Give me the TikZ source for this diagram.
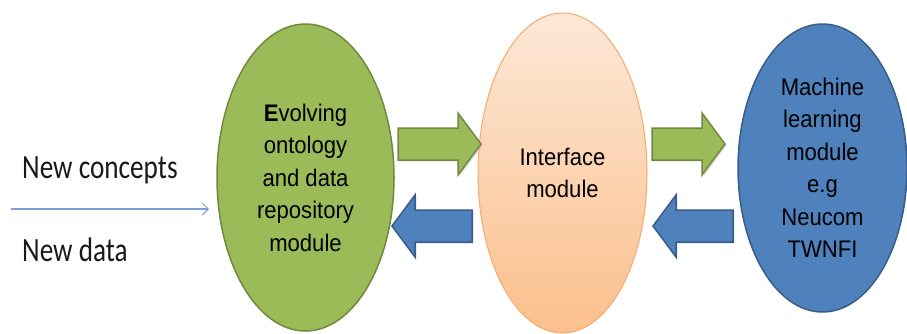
\documentclass[tikz,border=0pt]{standalone}
\usepackage{fontspec}
\setmainfont{Liberation Sans}
\newfontfamily\labfont[FakeStretch=0.8]{Carlito}
\newfontfamily\elfont[FakeStretch=0.92]{Liberation Sans}
\usetikzlibrary{shapes.geometric,arrows.meta,shadows}
\definecolor{grfill}{HTML}{9BBB59}
\definecolor{grline}{HTML}{71893F}
\definecolor{blfill}{HTML}{4F81BD}
\definecolor{blline}{HTML}{385D8A}
\definecolor{ortop}{HTML}{FDE8D7}
\definecolor{orbot}{HTML}{FBC08C}
\definecolor{orline}{HTML}{F7A86A}
\definecolor{inline}{HTML}{7F9FCF}
\newcommand{\blockarr}[5]{%
  \draw[draw=#5, fill=#4, line width=1.5pt, line join=miter,
        drop shadow={opacity=0.25, shadow xshift=1.5pt, shadow yshift=-1.5pt}]
    (#1,#3-16) -- ({#2-23*sign(#2-#1)},#3-16) -- ({#2-23*sign(#2-#1)},#3-31)
    -- (#2,#3) -- ({#2-23*sign(#2-#1)},#3+31) -- ({#2-23*sign(#2-#1)},#3+16)
    -- (#1,#3+16) -- cycle;}
\begin{document}
\begin{tikzpicture}[x=1pt,y=-1pt,
  modbox/.style={ellipse, inner sep=0pt, line width=1.5pt, align=center,
     font=\elfont\fontsize{24}{32.5}\selectfont},
  lab/.style={anchor=west, inner sep=0pt, text=black!90,
     font=\labfont\fontsize{34}{36}\selectfont}]
\useasboundingbox (0,0) rectangle (907,333);
% modules
\node[modbox, draw=grline, fill=grfill, minimum width=177pt, minimum height=307pt]
  (evo) at (305.5,177.5) {\textbf{E}volving\\ontology\\and data\\repository\\module};
\node[modbox, draw=orline, top color=ortop, bottom color=orbot, line width=1pt,
  minimum width=169pt, minimum height=320pt]
  (int) at (562.5,173) {Interface\\module};
\node[modbox, draw=blline, fill=blfill, minimum width=169pt, minimum height=288pt]
  (ml) at (822.5,168) {Machine\\learning\\module\\e.g\\Neucom\\TWNFI};
% block arrows
\blockarr{398}{481}{144}{grfill}{grline}
\blockarr{472}{392}{226}{blfill}{blline}
\blockarr{652}{725}{144}{grfill}{grline}
\blockarr{733}{653}{226}{blfill}{blline}
% input
\node[lab] (nc) at (22,170) {New concepts};
\node[lab] (nd) at (22,250) {New data};
\coordinate (inS) at (11,209);
\coordinate (inE) at (209,209);
\draw[inline, line width=1.3pt, -{Straight Barb[length=6pt,width=12pt,line width=1pt]}] (inS) -- (inE);
\end{tikzpicture}
\end{document}
